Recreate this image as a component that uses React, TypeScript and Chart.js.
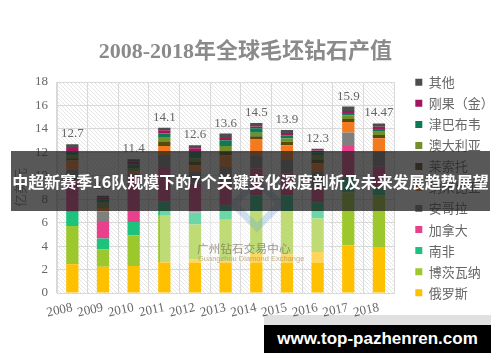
import React, { useEffect, useRef } from "react";
import { Chart, registerables } from "chart.js";

Chart.register(...registerables);

// ---------------- data ----------------
const years = ["2008", "2009", "2010", "2011", "2012", "2013", "2014", "2015", "2016", "2017", "2018"];
const totalLabels = ["12.7", "8.3", "11.4", "14.1", "12.6", "13.6", "14.5", "13.9", "12.3", "15.9", "14.47"];

const russia = [2.45, 2.25, 2.31, 2.65, 2.85, 2.75, 3.4, 3.3, 3.5, 4.07, 3.93];
const botswana = [3.27, 1.48, 2.62, 3.95, 2.99, 3.5, 3.6, 3.7, 2.85, 4.5, 4.41];
const southAfrica = [1.2, 0.91, 1.13, 1.2, 1.03, 1.2, 1.34, 1.34, 1.4, 1.3, 0.71];
const canada = [2.68, 1.42, 3.9, 2.87, 2.47, 2.0, 2.28, 1.86, 1.3, 2.68, 1.71];
const angola = [0.9, 0.86, 0.2, 1.1, 0.99, 1.3, 1.14, 1.2, 1.28, 1.14, 1.3];
const namibia = [0.8, 0.35, 0.2, 0.77, 0.57, 1.0, 1.34, 1.2, 0.72, 0.9, 1.14];
const lesotho = [0.2, 0.1, 0.1, 0.34, 0.27, 0.3, 0.28, 0.3, 0.3, 0.25, 0.28];
const australia = [0.25, 0.33, 0.2, 0.43, 0.3, 0.5, 0.3, 0.27, 0.35, 0.3, 0.28];
const zimbabwe = [0.35, 0.26, 0.3, 0.3, 0.63, 0.48, 0.37, 0.28, 0.3, 0.22, 0.23];
const congo = [0.28, 0.2, 0.24, 0.28, 0.25, 0.2, 0.15, 0.2, 0.15, 0.17, 0.2];
const others = [0.32, 0.14, 0.2, 0.2, 0.25, 0.37, 0.3, 0.25, 0.15, 0.37, 0.28];

const seriesNames = ["俄罗斯", "博茨瓦纳", "南非", "加拿大", "安哥拉", "纳米比亚", "莱索托", "澳大利亚", "津巴布韦", "刚果（金）", "其他"];
const seriesValues = [russia, botswana, southAfrica, canada, angola, namibia, lesotho, australia, zimbabwe, congo, others];
const seriesColors = ["#FFC000", "#9DC82D", "#1DC27C", "#E8408B", "#7F7F7F", "#F47A20", "#5A4A0A", "#71902A", "#0F7A52", "#A3165D", "#4D4D4D"];

const chartTitle = "2008-2018年全球毛坯钻石产值";
const yAxisTitle = "亿美元";
const bannerText = "中超新赛季16队规模下的7个关键变化深度剖析及未来发展趋势展望";
const siteText = "www.top-pazhenren.com";

const SERIF = "'Liberation Serif', 'Noto Sans CJK SC', serif";
const CJK = "'Noto Sans CJK SC', sans-serif";

// ---------------- plugins ----------------
const hatchPlugin = {
  id: "hatch",
  beforeDraw(chart: any) {
    const { ctx, chartArea: a } = chart;
    ctx.save();
    ctx.beginPath();
    ctx.rect(a.left, a.top, a.right - a.left, a.bottom - a.top);
    ctx.clip();
    ctx.strokeStyle = "#e6e6e6";
    ctx.lineWidth = 1;
    ctx.beginPath();
    const h = a.bottom - a.top;
    for (let x = a.left - h; x < a.right; x += 4) {
      ctx.moveTo(x, a.top);
      ctx.lineTo(x + h, a.bottom);
    }
    ctx.stroke();
    ctx.restore();
  },
};

const legendShiftPlugin = {
  id: "legendShift",
  afterLayout(chart: any) {
    const l = chart.legend;
    if (l) {
      l.left += 13;
      l.right += 13;
    }
  },
};

const totalsPlugin = {
  id: "totals",
  afterDatasetsDraw(chart: any) {
    const { ctx } = chart;
    const n = chart.data.datasets.length;
    const meta = chart.getDatasetMeta(n - 1);
    ctx.save();
    ctx.font = `13px ${SERIF}`;
    ctx.fillStyle = "#666666";
    ctx.textAlign = "center";
    ctx.textBaseline = "alphabetic";
    meta.data.forEach((bar: any, i: number) => {
      ctx.fillText(totalLabels[i], bar.x, bar.y - 7);
    });
    ctx.restore();
  },
};

export default function App() {
  const canvasRef = useRef<HTMLCanvasElement | null>(null);

  useEffect(() => {
    if (!canvasRef.current) return;
    const chart = new Chart(canvasRef.current, {
      type: "bar",
      data: {
        labels: years,
        datasets: seriesNames.map((name, i) => ({
          label: name,
          data: seriesValues[i],
          backgroundColor: seriesColors[i],
          borderWidth: 0,
          barPercentage: 0.4,
          categoryPercentage: 1,
        })),
      },
      options: {
        responsive: false,
        animation: false,
        layout: { padding: { top: 13, right: 9.2, bottom: 0, left: 0 } },
        plugins: {
          tooltip: { enabled: false },
          title: {
            display: true,
            text: chartTitle,
            color: "#8a8a8a",
            font: { family: SERIF, size: 22, weight: "bold" },
            padding: { top: 26.4, bottom: 16.2 },
          },
          legend: {
            position: "right",
            reverse: true,
            labels: {
              boxWidth: 7,
              boxHeight: 7,
              padding: 8.04,
              color: "#666666",
              font: { family: CJK, size: 13 },
            },
          },
        },
        scales: {
          x: {
            stacked: true,
            grid: { color: "#d9d9d9", drawTicks: false, offset: true },
            border: { color: "#d9d9d9" },
            ticks: {
              color: "#666666",
              font: { family: SERIF, size: 13 },
              minRotation: 12,
              maxRotation: 12,
              padding: 7,
            },
            afterFit: (s: any) => {
              s.height = 69;
            },
          },
          y: {
            stacked: true,
            min: 0,
            max: 18,
            grid: { color: "#d9d9d9", drawTicks: false },
            border: { color: "#d9d9d9" },
            ticks: {
              stepSize: 2,
              color: "#666666",
              font: { family: SERIF, size: 13 },
              padding: 9,
            },
            title: {
              display: true,
              text: yAxisTitle,
              color: "#888888",
              font: { family: CJK, size: 13 },
              padding: { top: 12.2, bottom: 0 },
            },
            afterFit: (s: any) => {
              s.width = 57;
            },
          },
        },
      },
      plugins: [hatchPlugin, legendShiftPlugin, totalsPlugin],
    } as any);
    return () => chart.destroy();
  }, []);

  return (
    <div style={{ position: "absolute", left: 0, top: 0, width: 500, height: 362, background: "#ffffff", overflow: "hidden" }}>
      <canvas ref={canvasRef} width={500} height={362} style={{ display: "block" }} />
      {/* faint watermark of the source */}
      <div style={{ position: "absolute", left: 160, top: 211, width: 170, height: 52, background: "rgba(255,255,255,0.35)" }} />
      <div
        style={{
          position: "absolute",
          left: 237,
          top: 184,
          width: 40,
          height: 40,
          border: "7px solid rgba(110,165,215,0.32)",
          transform: "rotate(45deg)",
          boxSizing: "border-box",
        }}
      />
      <div style={{ position: "absolute", left: 197, top: 240, fontFamily: CJK, fontSize: 11.5, color: "rgba(125,115,100,0.75)", letterSpacing: 0.2, whiteSpace: "nowrap" }}>
        广州钻石交易中心
      </div>
      <div style={{ position: "absolute", left: 198, top: 254, fontFamily: "'Liberation Sans', sans-serif", fontSize: 7.5, color: "rgba(170,150,90,0.75)", whiteSpace: "nowrap" }}>
        Guangzhou Diamond Exchange
      </div>
      {/* banner overlay */}
      <div
        style={{
          position: "absolute",
          left: 11,
          top: 151,
          width: 479,
          height: 60,
          background: "rgba(35,35,35,0.76)",
          color: "#ffffff",
          fontFamily: CJK,
          fontWeight: "bold",
          fontSize: 16,
          lineHeight: "60px",
          textAlign: "center",
          whiteSpace: "nowrap",
        }}
      >
        {bannerText}
      </div>
      {/* site label */}
      <div style={{ position: "absolute", left: 264, top: 315, width: 227, height: 10, background: "rgba(0,0,0,0.12)" }} />
      <div
        style={{
          position: "absolute",
          left: 264,
          top: 325,
          width: 227,
          height: 28,
          background: "#000000",
          color: "#ffffff",
          fontFamily: "'Liberation Sans', sans-serif",
          fontWeight: "bold",
          fontSize: 17,
          lineHeight: "28px",
          textAlign: "center",
          whiteSpace: "nowrap",
        }}
      >
        {siteText}
      </div>
    </div>
  );
}
